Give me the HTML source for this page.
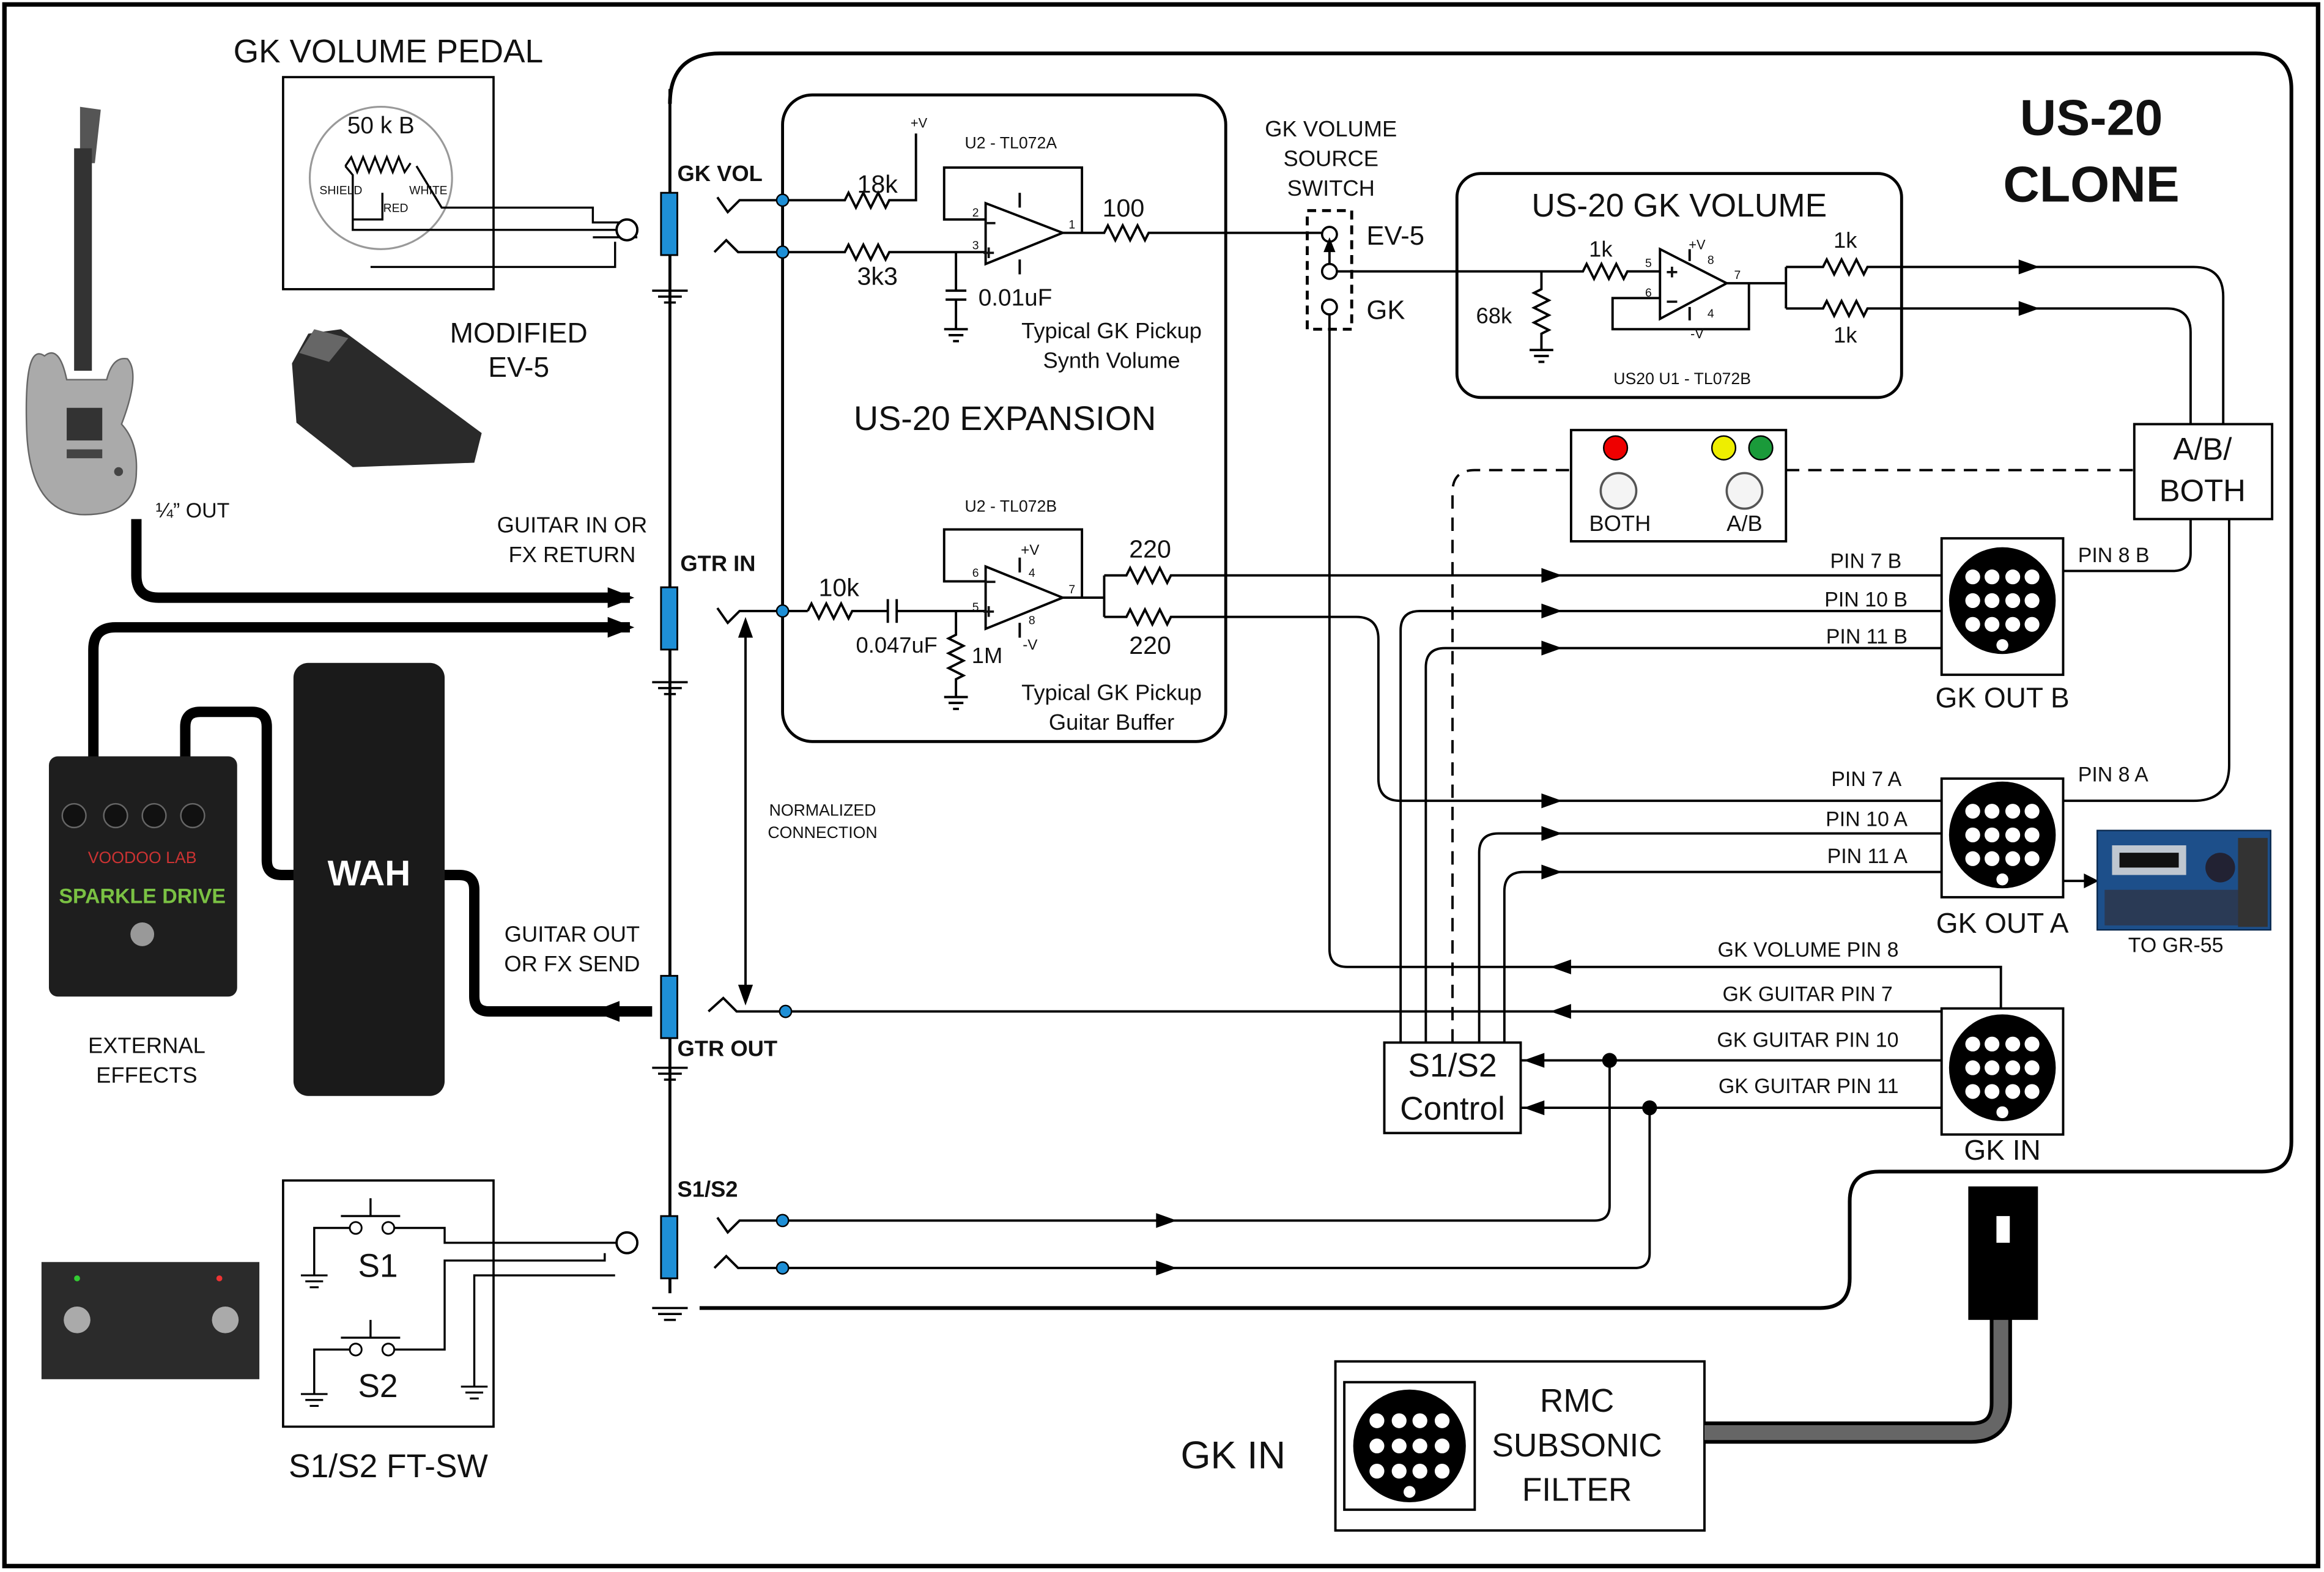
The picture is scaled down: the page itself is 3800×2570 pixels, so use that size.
<!DOCTYPE html>
<html><head><meta charset="utf-8"><style>
html,body{margin:0;padding:0;background:#fff}
svg{display:block}
text{font-family:"Liberation Sans",Arial,sans-serif;fill:#111}
</style></head><body>
<svg width="3800" height="2570" viewBox="0 0 1568 1060" preserveAspectRatio="none" xmlns="http://www.w3.org/2000/svg">
<rect x="0" y="0" width="1568" height="1060" fill="#fff"/>
<rect x="3" y="3" width="1561" height="1053" fill="none" stroke="#000" stroke-width="3"/>

<g fill="none" stroke="#000" stroke-width="2">
<path d="M452,70 Q452,36 486,36 L1522,36 Q1546,36 1546,60 L1546,770 Q1546,790 1526,790 L1268,790 Q1248,790 1248,810 L1248,862 Q1248,882 1228,882 L472,882" stroke-width="2.5"/>
<line x1="452" y1="60" x2="452" y2="872"/>
<rect x="528" y="64" width="299" height="436" rx="20"/>
<rect x="983" y="117" width="300" height="151" rx="16"/>
</g>

<g stroke="#000" stroke-width="1.5">
<line x1="440" y1="196" x2="464" y2="196"/><line x1="444" y1="200" x2="460" y2="200"/><line x1="448" y1="204" x2="456" y2="204"/>
<line x1="440" y1="460" x2="464" y2="460"/><line x1="444" y1="464" x2="460" y2="464"/><line x1="448" y1="468" x2="456" y2="468"/>
<line x1="440" y1="720" x2="464" y2="720"/><line x1="444" y1="724" x2="460" y2="724"/><line x1="448" y1="728" x2="456" y2="728"/>
<line x1="440" y1="882" x2="464" y2="882"/><line x1="444" y1="886" x2="460" y2="886"/><line x1="448" y1="890" x2="456" y2="890"/>
</g>
<g fill="#1e8fd6" stroke="#000" stroke-width="1.2">
<rect x="446" y="130" width="11" height="42"/>
<rect x="446" y="396" width="11" height="42"/>
<rect x="446" y="658" width="11" height="42"/>
<rect x="446" y="820" width="11" height="42"/>
</g>

<g fill="none" stroke="#000" stroke-width="1.6">
<path d="M484,133 L491,143 L499,135 L528,135"/>
<path d="M482,170 L490,162 L498,170 L528,170"/>
<path d="M484,410 L491,420 L499,412 L545,412"/>
<path d="M478,682 L488,673 L497,682 L530,682 L1310,682"/>
<path d="M484,821 L491,831 L499,823 L528,823 L1076,823 Q1086,823 1086,813 L1086,715"/>
<path d="M482,855 L490,847 L498,855 L528,855 L1103,855 Q1113,855 1113,845 L1113,747"/>

<path d="M528,135 L570,135 l2.5,-5 l5,10 l5,-10 l5,10 l5,-10 l5,10 l2.5,-5 L618,135 L618,90"/>
<path d="M528,170 L570,170 l2.5,-5 l5,10 l5,-10 l5,10 l5,-10 l5,10 l2.5,-5 L665,170"/>
<path d="M645,170 L645,196 M638,196 L652,196 M638,202 L652,202 M645,202 L645,222 M637,222 L653,222 M640,226 L650,226 M643,230 L647,230"/>
<polygon points="665,137 665,178 717,157"/>
<path d="M665,148 L637,148 L637,113 L730,113 L730,157 M717,157 L745,157 l2.5,-5 l5,10 l5,-10 l5,10 l5,-10 l5,10 l2.5,-5 L892,157"/>
<path d="M688,130 L688,140 M688,175 L688,185"/>

<path d="M545,412 l2.5,-5 l5,10 l5,-10 l5,10 l5,-10 l5,10 l2.5,-5 L599,412 M599,404 L599,420 M605,404 L605,420 M605,412 L665,412"/>
<path d="M645,412 L645,428 l-5,2.5 l10,5 l-10,5 l10,5 l-10,5 l10,5 l-5,2.5 L645,470 M637,470 L653,470 M640,474 L650,474 M643,478 L647,478"/>
<polygon points="665,382 665,424 717,403"/>
<path d="M665,392 L637,392 L637,357 L730,357 L730,403 M717,403 L745,403 M745,388 L745,416 M745,388 L760,388 l2.5,-5 l5,10 l5,-10 l5,10 l5,-10 l5,10 l2.5,-5 L1310,388 M745,416 L760,416 l2.5,-5 l5,10 l5,-10 l5,10 l5,-10 l5,10 l2.5,-5 L915,416 Q930,416 930,431 L930,525 Q930,540 945,540 L1310,540"/>
<path d="M688,376 L688,386 M688,420 L688,430"/>

<line x1="503" y1="420" x2="503" y2="674"/>

<rect x="882" y="142" width="30" height="80" stroke-dasharray="6,4" stroke-width="2"/>
<line x1="897" y1="183" x2="897" y2="168"/>
<path d="M902,183 L1068,183 l2.5,-5 l5,10 l5,-10 l5,10 l5,-10 l5,10 l2.5,-5 L1120,183"/>
<path d="M897,212 L897,640 Q897,652 909,652 L1350,652 L1350,680"/>
<path d="M1040,183 L1040,195 l-5,2.5 l10,5 l-10,5 l10,5 l-10,5 l10,5 l-5,2.5 L1040,236 M1032,236 L1048,236 M1035,240 L1045,240 M1038,244 L1042,244"/>
<polygon points="1120,168 1120,215 1165,191"/>
<path d="M1120,201 L1088,201 L1088,222 L1180,222 L1180,191 M1165,191 L1205,191 M1205,180 L1205,208 M1205,180 L1230,180 l2.5,-5 l5,10 l5,-10 l5,10 l5,-10 l5,10 l2.5,-5 L1480,180 Q1500,180 1500,200 L1500,286 M1205,208 L1230,208 l2.5,-5 l5,10 l5,-10 l5,10 l5,-10 l5,10 l2.5,-5 L1462,208 Q1478,208 1478,224 L1478,286"/>
<path d="M1140,176 L1140,168 M1140,207 L1140,216"/>

<path d="M945,703 L945,425 Q945,412 958,412 L1310,412"/>
<path d="M962,703 L962,450 Q962,437 975,437 L1310,437"/>
<path d="M998,703 L998,575 Q998,562 1011,562 L1310,562"/>
<path d="M1015,703 L1015,601 Q1015,588 1028,588 L1310,588"/>
<path d="M980,703 L980,332 Q980,317 995,317 L1060,317 M1205,317 L1440,317" stroke-dasharray="9,6"/>
<path d="M1026,715 L1310,715 M1026,747 L1310,747"/>
<path d="M1392,385 L1466,385 Q1478,385 1478,373 L1478,350"/>
<path d="M1392,540 L1480,540 Q1504,540 1504,516 L1504,350"/>
<path d="M1392,594 L1410,594"/>

<rect x="934" y="703" width="92" height="61"/>
<rect x="1440" y="286" width="93" height="64"/>
<rect x="1060" y="290" width="145" height="75"/>
<rect x="1310" y="363" width="82" height="92"/>
<rect x="1310" y="525" width="82" height="80"/>
<rect x="1310" y="680" width="82" height="85"/>
<rect x="901" y="918" width="249" height="114"/>
<rect x="907" y="932" width="88" height="86"/>

<rect x="191" y="52" width="142" height="143" stroke-width="1.5"/>
<circle cx="257" cy="120" r="48" stroke="#999" stroke-width="1.3"/>
<path d="M233,112 l4,-6 l4,10 l4,-10 l4,10 l4,-10 l4,10 l4,-10 l4,10 l4,-10 l4,10 l4,-6" stroke-width="1.4"/>
<path d="M233,112 L238,118 L238,155 L420,155 M281,112 L298,140 L400,140 L400,150 L418,150 M258,130 L258,148 L238,148" stroke-width="1.4"/>
<path d="M250,180 L415,180 L415,163 M400,160 L430,160" stroke-width="1.4"/>
<circle cx="423" cy="155" r="7" fill="#fff"/>
<rect x="191" y="796" width="142" height="166" stroke-width="1.5"/>
<path d="M212,860 L212,828 L237,828 M264,828 L300,828 L300,838 L420,838 M212,940 L212,910 L237,910 M264,910 L300,910 L300,850 L408,850 L408,845 M230,820 L270,820 M250,820 L250,808 M230,902 L270,902 M250,902 L250,890 M320,935 L320,860 L415,860" stroke-width="1.4"/>
<circle cx="240" cy="828" r="4" fill="#fff" stroke-width="1.2"/><circle cx="262" cy="828" r="4" fill="#fff" stroke-width="1.2"/>
<circle cx="240" cy="910" r="4" fill="#fff" stroke-width="1.2"/><circle cx="262" cy="910" r="4" fill="#fff" stroke-width="1.2"/>
<path d="M203,860 L221,860 M206,864 L218,864 M209,868 L215,868 M203,940 L221,940 M206,944 L218,944 M209,948 L215,948 M311,935 L329,935 M314,939 L326,939 M317,943 L323,943" stroke-width="1.3"/>
<circle cx="423" cy="838" r="7" fill="#fff"/>
</g>

<g fill="#fff" stroke="#000" stroke-width="1.5">
<circle cx="897" cy="158" r="5"/><circle cx="897" cy="183" r="5"/><circle cx="897" cy="207" r="5"/>
</g>
<polygon points="893,170 901,170 897,160" fill="#000"/>

<g fill="#1e8fd6" stroke="#000" stroke-width="1">
<circle cx="528" cy="135" r="4"/><circle cx="528" cy="170" r="4"/><circle cx="528" cy="412" r="4"/>
<circle cx="530" cy="682" r="4"/><circle cx="528" cy="823" r="4"/><circle cx="528" cy="855" r="4"/>
</g>
<circle cx="1086" cy="715" r="5" fill="#000"/><circle cx="1113" cy="747" r="5" fill="#000"/>

<g fill="#000">
<polygon points="1040,383 1054,388 1040,393"/>
<polygon points="1040,407 1054,412 1040,417"/>
<polygon points="1040,432 1054,437 1040,442"/>
<polygon points="1040,535 1054,540 1040,545"/>
<polygon points="1040,557 1054,562 1040,567"/>
<polygon points="1040,583 1054,588 1040,593"/>
<polygon points="1060,647 1046,652 1060,657"/>
<polygon points="1060,677 1046,682 1060,687"/>
<polygon points="1042,710 1028,715 1042,720"/>
<polygon points="1042,742 1028,747 1042,752"/>
<polygon points="1362,175 1376,180 1362,185"/>
<polygon points="1362,203 1376,208 1362,213"/>
<polygon points="780,818 794,823 780,828"/>
<polygon points="780,850 794,855 780,860"/>
<polygon points="1406,589 1416,594 1406,599"/>
<polygon points="498,430 503,416 508,430"/>
<polygon points="498,664 503,678 508,664"/>
</g>

<circle cx="1090" cy="302" r="8" fill="#e00" stroke="#000"/>
<circle cx="1163" cy="302" r="8" fill="#ee0" stroke="#000"/>
<circle cx="1188" cy="302" r="8" fill="#1a9a3a" stroke="#000"/>
<circle cx="1092" cy="331" r="12" fill="#f4f4f4" stroke="#555" stroke-width="1.5"/>
<circle cx="1177" cy="331" r="12" fill="#f4f4f4" stroke="#555" stroke-width="1.5"/>

<g fill="#000"><circle cx="1351" cy="405" r="36"/><circle cx="1351" cy="563" r="36"/><circle cx="1351" cy="720" r="36"/><circle cx="951" cy="975" r="38"/></g>
<g fill="#fff">
<g transform="translate(1351,405)"><circle cx="-20" cy="-16" r="5"/><circle cx="-7" cy="-16" r="5"/><circle cx="7" cy="-16" r="5"/><circle cx="20" cy="-16" r="5"/><circle cx="-20" cy="0" r="5"/><circle cx="-7" cy="0" r="5"/><circle cx="7" cy="0" r="5"/><circle cx="20" cy="0" r="5"/><circle cx="-20" cy="16" r="5"/><circle cx="-7" cy="16" r="5"/><circle cx="7" cy="16" r="5"/><circle cx="20" cy="16" r="5"/><circle cx="0" cy="30" r="4"/></g>
<g transform="translate(1351,563)"><circle cx="-20" cy="-16" r="5"/><circle cx="-7" cy="-16" r="5"/><circle cx="7" cy="-16" r="5"/><circle cx="20" cy="-16" r="5"/><circle cx="-20" cy="0" r="5"/><circle cx="-7" cy="0" r="5"/><circle cx="7" cy="0" r="5"/><circle cx="20" cy="0" r="5"/><circle cx="-20" cy="16" r="5"/><circle cx="-7" cy="16" r="5"/><circle cx="7" cy="16" r="5"/><circle cx="20" cy="16" r="5"/><circle cx="0" cy="30" r="4"/></g>
<g transform="translate(1351,720)"><circle cx="-20" cy="-16" r="5"/><circle cx="-7" cy="-16" r="5"/><circle cx="7" cy="-16" r="5"/><circle cx="20" cy="-16" r="5"/><circle cx="-20" cy="0" r="5"/><circle cx="-7" cy="0" r="5"/><circle cx="7" cy="0" r="5"/><circle cx="20" cy="0" r="5"/><circle cx="-20" cy="16" r="5"/><circle cx="-7" cy="16" r="5"/><circle cx="7" cy="16" r="5"/><circle cx="20" cy="16" r="5"/><circle cx="0" cy="30" r="4"/></g>
<g transform="translate(951,975)"><circle cx="-22" cy="-17" r="5"/><circle cx="-7" cy="-17" r="5"/><circle cx="7" cy="-17" r="5"/><circle cx="22" cy="-17" r="5"/><circle cx="-22" cy="0" r="5"/><circle cx="-7" cy="0" r="5"/><circle cx="7" cy="0" r="5"/><circle cx="22" cy="0" r="5"/><circle cx="-22" cy="17" r="5"/><circle cx="-7" cy="17" r="5"/><circle cx="7" cy="17" r="5"/><circle cx="22" cy="17" r="5"/><circle cx="0" cy="31" r="4"/></g>
</g>

<rect x="1415" y="560" width="117" height="67" fill="#1d4f8a" stroke="#0b2a50"/>
<rect x="1425" y="570" width="50" height="20" fill="#bfc7d0"/>
<rect x="1430" y="575" width="40" height="10" fill="#111"/>
<circle cx="1498" cy="585" r="10" fill="#223"/>
<rect x="1420" y="600" width="90" height="24" fill="#2a3a55"/>
<path d="M1510,565 L1530,565 L1530,625 L1510,625 Z" fill="#333"/>

<g fill="none" stroke="#000" stroke-width="7" stroke-linejoin="round">
<path d="M92,350 L92,388 Q92,403 107,403 L425,403"/>
<path d="M63,510 L63,438 Q63,423 78,423 L425,423"/>
<path d="M125,510 L125,490 Q125,480 135,480 L170,480 Q180,480 180,490 L180,580 Q180,590 190,590 L202,590"/>
<path d="M298,590 L310,590 Q320,590 320,600 L320,672 Q320,682 330,682 L440,682"/>
</g>
<polygon points="410,396 428,403 410,410" fill="#000"/>
<polygon points="410,416 428,423 410,430" fill="#000"/>
<polygon points="418,675 400,682 418,689" fill="#000"/>
<path d="M1150,966 L1330,966 Q1350,966 1350,946 L1350,885" fill="none" stroke="#000" stroke-width="15"/>
<path d="M1150,966 L1330,966 Q1350,966 1350,946 L1350,885" fill="none" stroke="#666" stroke-width="10"/>
<rect x="1328" y="800" width="47" height="90" fill="#000"/>
<rect x="1347" y="820" width="9" height="18" fill="#fff"/>

<g>
<path d="M54,72 L68,74 L64,110 L54,110 Z" fill="#555"/>
<rect x="50" y="100" width="12" height="150" fill="#333"/>
<path d="M30,240 Q16,230 18,290 Q20,345 55,347 Q92,348 92,318 Q93,298 82,286 Q95,252 86,242 Q76,240 72,256 L45,256 Q40,232 30,240 Z" fill="#aaa" stroke="#666"/>
<rect x="45" y="275" width="24" height="22" fill="#333"/>
<rect x="45" y="303" width="24" height="6" fill="#444"/>
<circle cx="80" cy="318" r="3" fill="#444"/>
</g>
<path d="M197,245 L208,225 L230,222 L325,292 L320,312 L238,315 L200,285 Z" fill="#2a2a2a"/>
<path d="M202,238 L212,222 L235,228 L222,244 Z" fill="#666"/>
<rect x="33" y="510" width="127" height="162" rx="6" fill="#1e1e1e"/>
<circle cx="50" cy="550" r="8" fill="#111" stroke="#666"/><circle cx="78" cy="550" r="8" fill="#111" stroke="#666"/><circle cx="104" cy="550" r="8" fill="#111" stroke="#666"/><circle cx="130" cy="550" r="8" fill="#111" stroke="#666"/>
<text x="96" y="609" font-size="14" font-weight="bold" text-anchor="middle" style="fill:#7ac143">SPARKLE DRIVE</text>
<text x="96" y="582" font-size="11" text-anchor="middle" style="fill:#c33">VOODOO LAB</text>
<circle cx="96" cy="630" r="8" fill="#999"/>
<rect x="198" y="447" width="102" height="292" rx="10" fill="#1a1a1a"/>
<text x="249" y="597" font-size="24" font-weight="bold" text-anchor="middle" style="fill:#fff">WAH</text>
<rect x="28" y="851" width="147" height="79" fill="#2b2b2b"/>
<circle cx="52" cy="890" r="9" fill="#aaa"/><circle cx="152" cy="890" r="9" fill="#aaa"/>
<circle cx="52" cy="862" r="2" fill="#3c3"/><circle cx="148" cy="862" r="2" fill="#e33"/>

<g font-size="16" text-anchor="middle">
<text x="262" y="42" font-size="22">GK VOLUME PEDAL</text>
<text x="257" y="90" font-size="16">50 k B</text>
<text x="230" y="131" font-size="8">SHIELD</text>
<text x="289" y="131" font-size="8">WHITE</text>
<text x="267" y="143" font-size="8">RED</text>
<text x="350" y="231" font-size="19">MODIFIED</text>
<text x="350" y="254" font-size="19">EV-5</text>
<text x="130" y="349" font-size="14">¼” OUT</text>
<text x="386" y="359" font-size="15">GUITAR IN OR</text>
<text x="386" y="379" font-size="15">FX RETURN</text>
<text x="386" y="635" font-size="15">GUITAR OUT</text>
<text x="386" y="655" font-size="15">OR FX SEND</text>
<text x="99" y="710" font-size="15">EXTERNAL</text>
<text x="99" y="730" font-size="15">EFFECTS</text>
<text x="255" y="861" font-size="22">S1</text>
<text x="255" y="942" font-size="22">S2</text>
<text x="262" y="996" font-size="22">S1/S2 FT-SW</text>
<text x="555" y="550" font-size="11">NORMALIZED</text>
<text x="555" y="565" font-size="11">CONNECTION</text>
<text x="832" y="990" font-size="26">GK IN</text>
<text x="1064" y="952" font-size="22">RMC</text>
<text x="1064" y="982" font-size="22">SUBSONIC</text>
<text x="1064" y="1012" font-size="22">FILTER</text>

<text x="592" y="130" font-size="17">18k</text>
<text x="592" y="192" font-size="17">3k3</text>
<text x="620" y="86" font-size="9">+V</text>
<text x="682" y="100" font-size="11">U2 - TL072A</text>
<text x="758" y="146" font-size="17">100</text>
<text x="685" y="206" font-size="16">0.01uF</text>
<text x="750" y="228" font-size="15">Typical GK Pickup</text>
<text x="750" y="248" font-size="15">Synth Volume</text>
<text x="678" y="290" font-size="23">US-20 EXPANSION</text>
<text x="682" y="345" font-size="11">U2 - TL072B</text>
<text x="566" y="402" font-size="17">10k</text>
<text x="605" y="440" font-size="15">0.047uF</text>
<text x="666" y="447" font-size="15">1M</text>
<text x="695" y="374" font-size="10">+V</text>
<text x="695" y="438" font-size="10">-V</text>
<text x="776" y="376" font-size="17">220</text>
<text x="776" y="441" font-size="17">220</text>
<text x="750" y="472" font-size="15">Typical GK Pickup</text>
<text x="750" y="492" font-size="15">Guitar Buffer</text>

<text x="898" y="92" font-size="15">GK VOLUME</text>
<text x="898" y="112" font-size="15">SOURCE</text>
<text x="898" y="132" font-size="15">SWITCH</text>
<text x="1133" y="146" font-size="22">US-20 GK VOLUME</text>
<text x="1080" y="173" font-size="15">1k</text>
<text x="1008" y="218" font-size="15">68k</text>
<text x="1245" y="167" font-size="15">1k</text>
<text x="1245" y="231" font-size="15">1k</text>
<text x="1145" y="168" font-size="9">+V</text>
<text x="1145" y="228" font-size="9">-V</text>
<text x="1135" y="259" font-size="11">US20 U1 - TL072B</text>
<text x="1411" y="91" font-size="34" font-weight="bold">US-20</text>
<text x="1411" y="136" font-size="34" font-weight="bold">CLONE</text>
<text x="1486" y="310" font-size="21">A/B/</text>
<text x="1486" y="338" font-size="21">BOTH</text>
<text x="1093" y="358" font-size="15">BOTH</text>
<text x="1177" y="358" font-size="15">A/B</text>
<text x="1351" y="477" font-size="19">GK OUT B</text>
<text x="1351" y="629" font-size="19">GK OUT A</text>
<text x="1351" y="782" font-size="19">GK IN</text>
<text x="1468" y="642" font-size="14">TO GR-55</text>
<text x="980" y="726" font-size="22">S1/S2</text>
<text x="980" y="755" font-size="22">Control</text>
</g>
<g font-size="14" text-anchor="end">
<text x="1283" y="383">PIN 7 B</text>
<text x="1287" y="409">PIN 10 B</text>
<text x="1287" y="434">PIN 11 B</text>
<text x="1283" y="530">PIN 7 A</text>
<text x="1287" y="557">PIN 10 A</text>
<text x="1287" y="582">PIN 11 A</text>
<text x="1281" y="645">GK VOLUME PIN 8</text>
<text x="1277" y="675">GK GUITAR PIN 7</text>
<text x="1281" y="706">GK GUITAR PIN 10</text>
<text x="1281" y="737">GK GUITAR PIN 11</text>
</g>
<g font-size="14">
<text x="1402" y="379">PIN 8 B</text>
<text x="1402" y="527">PIN 8 A</text>
<text x="922" y="165" font-size="18">EV-5</text>
<text x="922" y="215" font-size="18">GK</text>
</g>
<g font-size="15" font-weight="bold">
<text x="457" y="122">GK VOL</text>
<text x="459" y="385">GTR IN</text>
<text x="457" y="712">GTR OUT</text>
<text x="457" y="807">S1/S2</text>
</g>
<g font-size="8">
<text x="656" y="146">2</text><text x="656" y="168">3</text><text x="721" y="154">1</text>
<text x="656" y="389">6</text><text x="656" y="412">5</text><text x="721" y="400">7</text>
<text x="694" y="389">4</text><text x="694" y="421">8</text>
<text x="1110" y="180">5</text><text x="1110" y="200">6</text><text x="1170" y="188">7</text><text x="1152" y="178">8</text><text x="1152" y="214">4</text>
</g>
<g font-size="14" font-weight="bold">
<text x="664" y="155">−</text><text x="663" y="175">+</text>
<text x="664" y="397">−</text><text x="663" y="417">+</text>
<text x="1124" y="188">+</text><text x="1124" y="208">−</text>
</g>
</svg>
</body></html>
